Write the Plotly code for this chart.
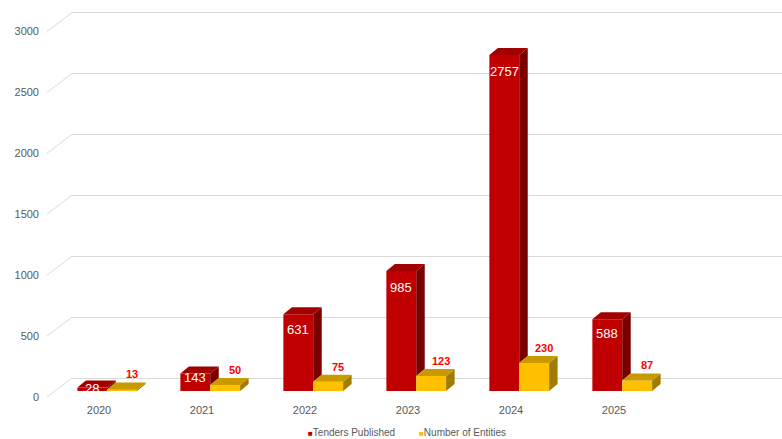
import plotly.graph_objects as go

years = ["2020", "2021", "2022", "2023", "2024", "2025"]
tenders = [28, 143, 631, 985, 2757, 588]
entities = [13, 50, 75, 123, 230, 87]
y_ticks = [0, 500, 1000, 1500, 2000, 2500, 3000]
series_names = ["Tenders Published", "Number of Entities"]

# ---- geometry / style constants ----
W, H = 782, 439
ML, MR, MT, MB = 72, 0, 10, 41
PW, PH = W - ML - MR, H - MT - MB
S = 0.12183            # px per unit on y
XPX = 103.0            # px per category
ZERO_FROM_TOP = 381    # px from plot top to bar base
y_rng = [-(PH - ZERO_FROM_TOP) / S, ZERO_FROM_TOP / S]
x_rng = [(ML - 99) / XPX, (W - MR - 99) / XPX]
LBL_SHIFT = 6 / S      # front plane (labels) below bar base
GRID_SHIFT = 13 / S    # back wall above bar base
DXU = 8.5 / XPX        # bar depth, x units
DYU = 7 / S            # bar depth, y units
R_OFF, Y_OFF, BW = -0.21, 0.08, 0.29

RED, RED_TOP, RED_SIDE = "#C00000", "#A30000", "#7A0000"
YEL, YEL_TOP, YEL_SIDE = "#FFC000", "#C99A00", "#A07D00"
GRID = "#D9D9D9"
TXT = "#595959"
FONT = "Liberation Sans, Arial, sans-serif"

xs = list(range(len(years)))

fig = go.Figure()
fig.add_trace(go.Bar(x=xs, y=tenders, offset=R_OFF, width=BW,
                     marker=dict(color=RED, line=dict(width=0)),
                     showlegend=False, name=series_names[0]))
fig.add_trace(go.Bar(x=xs, y=entities, offset=Y_OFF, width=BW,
                     marker=dict(color=YEL, line=dict(width=0)),
                     showlegend=False, name=series_names[1]))
# anchor traces so the overlaid label / grid axes are drawn
fig.add_trace(go.Scatter(x=[None], y=[None], yaxis="y2", showlegend=False, hoverinfo="skip"))
fig.add_trace(go.Scatter(x=[None], y=[None], yaxis="y3", showlegend=False, hoverinfo="skip"))


def poly(pts):
    return "M " + " L ".join(f"{a},{b}" for a, b in pts) + " Z"


shapes = []
annotations = []
for k, (vr, vy) in enumerate(zip(tenders, entities)):
    Lr = k + R_OFF
    Rr = Lr + BW
    Ly = k + Y_OFF
    Ry = Ly + BW
    # red side (visible part above yellow)
    shapes.append(dict(type="path", xref="x", yref="y", layer="above",
                       path=poly([(Rr, vr), (Rr + DXU, vr + DYU), (Rr + DXU, vy + DYU), (Rr, vy)]),
                       fillcolor=RED_SIDE, line=dict(width=0)))
    # red top
    shapes.append(dict(type="path", xref="x", yref="y", layer="above",
                       path=poly([(Lr, vr), (Lr + DXU, vr + DYU), (Rr + DXU, vr + DYU), (Rr, vr)]),
                       fillcolor=RED_TOP, line=dict(width=0)))
    # yellow side
    shapes.append(dict(type="path", xref="x", yref="y", layer="above",
                       path=poly([(Ry, 0), (Ry + DXU, DYU), (Ry + DXU, vy + DYU), (Ry, vy)]),
                       fillcolor=YEL_SIDE, line=dict(width=0)))
    # yellow top
    shapes.append(dict(type="path", xref="x", yref="y", layer="above",
                       path=poly([(Ly, vy), (Ly + DXU, vy + DYU), (Ry + DXU, vy + DYU), (Ry, vy)]),
                       fillcolor=YEL_TOP, line=dict(width=0)))
    annotations.append(dict(x=Lr + BW / 2, y=vr - min(16 / S, 0.2 * vr), xref="x", yref="y",
                            text=str(vr), showarrow=False, yanchor="middle",
                            font=dict(family=FONT, size=13, color="white")))
    annotations.append(dict(x=Ly + BW / 2 + 10 / XPX, y=vy + DYU, xref="x", yref="y",
                            text=f"<b>{vy}</b>", showarrow=False, yanchor="bottom", yshift=0,
                            font=dict(family=FONT, size=11, color="#FF0000")))

# diagonal connectors from front plane to back wall gridlines
for v in y_ticks:
    shapes.append(dict(type="line", xref="paper", yref="y", layer="below",
                       x0=(47 - ML) / PW, y0=v - LBL_SHIFT, x1=0, y1=v + GRID_SHIFT,
                       line=dict(color=GRID, width=1)))

# legend (as text entries with colored square keys)
LEG_Y = (H - MB - 433) / PH
for name, col, px in zip(series_names, [RED, YEL], [306, 417]):
    annotations.append(dict(xref="paper", yref="paper", x=(px - ML) / PW, y=LEG_Y,
                            xanchor="left", yanchor="middle", showarrow=False,
                            text=f'<span style="color:{col};font-size:8px">■</span>{name}',
                            font=dict(family=FONT, size=10, color=TXT)))

fig.update_layout(
    width=W, height=H,
    margin=dict(l=ML, r=MR, t=MT, b=MB),
    paper_bgcolor="white", plot_bgcolor="white",
    barmode="overlay",
    showlegend=False,
    font=dict(family=FONT, color=TXT),
    xaxis=dict(range=x_rng, tickvals=xs, ticktext=years, showgrid=False, zeroline=False,
               showline=False, ticks="", ticklabelstandoff=4, tickfont=dict(size=11, color=TXT)),
    yaxis=dict(range=y_rng, visible=False, showgrid=False, zeroline=False),
    yaxis2=dict(range=[y_rng[0] + LBL_SHIFT, y_rng[1] + LBL_SHIFT], overlaying="y",
                tickvals=y_ticks, showgrid=False, zeroline=False, showline=False,
                ticks="", ticklabelstandoff=32, tickfont=dict(size=11, color=TXT)),
    yaxis3=dict(range=[y_rng[0] - GRID_SHIFT, y_rng[1] - GRID_SHIFT], overlaying="y",
                tickvals=y_ticks, showgrid=True, gridcolor=GRID, gridwidth=1,
                showticklabels=False, zeroline=False, showline=False, ticks=""),
    shapes=shapes,
    annotations=annotations,
)

fig.write_html("out.html")
